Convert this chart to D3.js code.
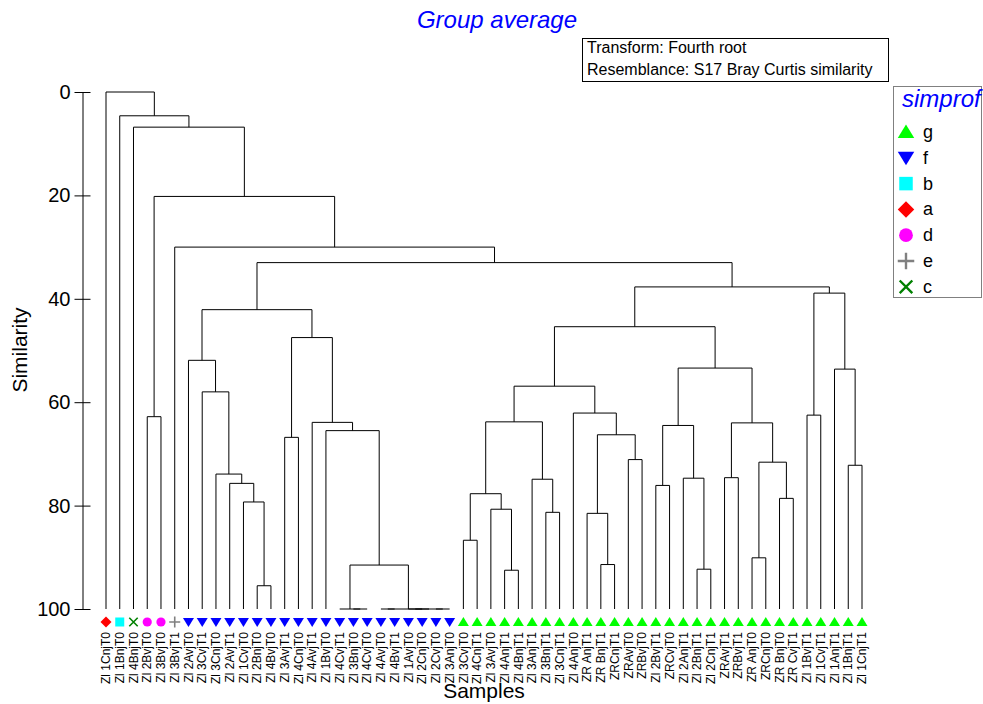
<!DOCTYPE html>
<html><head><meta charset="utf-8">
<script src="https://cdn.jsdelivr.net/npm/d3@7"></script>
<style>body{margin:0;background:#fff}svg{display:block;font-family:"Liberation Sans",Arial,sans-serif}</style>
</head><body><svg id="c" width="983" height="704"></svg>
<script>
// ---- data ----
const sampleLabels = [
 "Zl 1CnjT0","Zl 1BnjT0","Zl 4BnjT0","Zl 2BvjT0","Zl 3BvjT0","Zl 3BvjT1",
 "Zl 2AvjT0","Zl 3CvjT1","Zl 3CnjT0","Zl 2AvjT1","Zl 1CvjT0","Zl 2BnjT0","Zl 4BvjT0","Zl 3AvjT1",
 "Zl 4CnjT0","Zl 4AvjT1","Zl 1BvjT0","Zl 4CvjT1","Zl 3BnjT0","Zl 4CvjT0","Zl 4AvjT0","Zl 4BvjT1",
 "Zl 1AvjT0","Zl 2CnjT0","Zl 2CvjT0","Zl 3AnjT0",
 "Zl 3CvjT0","Zl 4CnjT1","Zl 3AvjT0","Zl 4AnjT1","Zl 4BnjT1","Zl 3AnjT1","Zl 3BnjT1","Zl 3CnjT1",
 "Zl 4AnjT0","ZR AnjT1","ZR BnjT1","ZRCnjT1","ZRAvjT0","ZRBvjT0","Zl 2BvjT1","ZRCvjT0",
 "Zl 2AnjT1","Zl 2BnjT1","Zl 2CnjT1","ZRAvjT1","ZRBvjT1","ZR AnjT0","ZRCnjT0","ZR BnjT0",
 "ZR CvjT1","Zl 1BvjT1","Zl 1CvjT1","Zl 1AnjT1","Zl 1BnjT1","Zl 1CnjT1"
];
const sampleGroups = [
 "a","b","c","d","d","e",
 "f","f","f","f","f","f","f","f","f","f","f","f","f","f","f","f","f","f","f","f",
 "g","g","g","g","g","g","g","g","g","g","g","g","g","g","g","g","g","g","g","g",
 "g","g","g","g","g","g","g","g","g","g"
];
// linkage: [left, right, similarity]; numbers = sample index, "cN" = earlier merge N
const merges = [
 [18,19,100],[17,"c0",100],[20,21,100],[22,23,100],[24,25,100],["c3","c4",100],["c2","c5",100],
 ["c1","c6",91.5],[16,"c7",65.5],[15,"c8",63.9],[13,14,66.8],["c10","c9",47.5],
 [11,12,95.5],[10,"c12",79.3],[9,"c13",75.7],[8,"c14",73.9],[7,"c15",58.0],[6,"c16",51.9],
 ["c17","c11",42.1],
 [26,27,86.7],[29,30,92.5],[28,"c20",80.7],["c19","c21",77.7],[32,33,81.3],[31,"c23",74.9],
 ["c22","c24",63.8],[36,37,91.4],[35,"c26",81.5],[38,39,71.1],["c27","c28",66.3],[34,"c29",62.1],
 ["c25","c30",56.9],[40,41,76.1],[43,44,92.3],[42,"c33",74.7],["c32","c34",64.5],[45,46,74.6],
 [47,48,90.1],[49,50,78.6],["c37","c38",71.6],["c36","c39",64.0],["c35","c40",53.4],
 ["c31","c41",45.4],[51,52,62.5],[54,55,72.2],[53,"c44",53.6],["c43","c45",38.9],
 ["c42","c46",37.7],["c18","c47",33.0],[5,"c48",30.0],[3,4,62.8],["c50","c49",20.2],
 [2,"c51",6.8],[1,"c52",4.6],[0,"c53",0]
];
const legendGroups = ["g","f","b","a","d","e","c"];
const groupColors = {g:"#00ff00",f:"#0000ff",b:"#00ffff",a:"#ff0000",d:"#ff00ff",e:"#808080",c:"#008000"};
const groupShapes = {g:"triUp",f:"triDown",b:"square",a:"diamond",d:"circle",e:"plus",c:"cross"};
const yTicks = [0,20,40,60,80,100];

// ---- build tree ----
const clusters = [];
function ref(r){ return typeof r === "number" ? {name:sampleLabels[r], idx:r, group:sampleGroups[r], sim:100} : clusters[+r.slice(1)]; }
merges.forEach(m => clusters.push({children:[ref(m[0]), ref(m[1])], sim:m[2]}));
const root = d3.hierarchy(clusters[clusters.length-1]);

const svg = d3.select("#c");
const FONT = '"Liberation Sans",Arial,sans-serif';
const leaves = root.leaves();
const x = d3.scalePoint().domain(leaves.map(d => d.data.idx)).range([106, 862]);
const y = d3.scaleLinear().domain([0,100]).range([92, 609]);

root.eachAfter(d => {
  if (!d.children) d.x = x(d.data.idx);
  else d.x = d3.mean(d.children, c => c.x);
});

// ---- dendrogram ----
const gL = svg.append("g").attr("fill","none").attr("stroke","#000").attr("stroke-width",1);
root.each(d => {
  if (!d.children) return;
  const yy = y(d.data.sim);
  const xs = d.children.map(c => c.x);
  gL.append("line").attr("x1", d3.min(xs)).attr("x2", d3.max(xs)).attr("y1", yy).attr("y2", yy);
  d.children.forEach(c => {
    gL.append("line").attr("x1", c.x).attr("x2", c.x).attr("y1", y(c.data.sim)).attr("y2", yy);
  });
});

// ---- symbols ----
function drawSymbol(g, shape, color, s) {
  switch (shape) {
    case "triUp": g.append("path").attr("d",`M0,${-5*s}L${5.5*s},${4*s}L${-5.5*s},${4*s}Z`).attr("fill",color); break;
    case "triDown": g.append("path").attr("d",`M0,${5*s}L${5.5*s},${-4*s}L${-5.5*s},${-4*s}Z`).attr("fill",color); break;
    case "square": g.append("rect").attr("x",-4.5*s).attr("y",-4.5*s).attr("width",9*s).attr("height",9*s).attr("fill",color); break;
    case "diamond": g.append("path").attr("d",`M0,${-5.5*s}L${5.5*s},0L0,${5.5*s}L${-5.5*s},0Z`).attr("fill",color); break;
    case "circle": g.append("circle").attr("r",4.6*s).attr("fill",color); break;
    case "plus": g.append("path").attr("d",`M${-5.5*s},0H${5.5*s}M0,${-5.5*s}V${5.5*s}`).attr("stroke",color).attr("stroke-width",1.6*s).attr("fill","none"); break;
    case "cross": g.append("path").attr("d",`M${-4.2*s},${-4.2*s}L${4.2*s},${4.2*s}M${4.2*s},${-4.2*s}L${-4.2*s},${4.2*s}`).attr("stroke",color).attr("stroke-width",1.6*s).attr("fill","none"); break;
  }
}
leaves.forEach(d => {
  const g = svg.append("g").attr("transform",`translate(${d.x},622)`);
  drawSymbol(g, groupShapes[d.data.group], groupColors[d.data.group], 1);
});

// ---- leaf labels ----
svg.append("g").selectAll("text").data(leaves).join("text")
  .attr("transform", d => `translate(${d.x},632) rotate(-90)`)
  .attr("text-anchor","end").attr("dy","0.35em")
  .attr("font-size",12).attr("font-family",FONT).attr("fill","#000")
  .text(d => d.data.name);

// ---- y axis ----
const yAxis = d3.axisLeft(y).tickValues(yTicks).tickSizeInner(8).tickSizeOuter(0).tickPadding(4);
const ga = svg.append("g").attr("transform","translate(82.5,0)").call(yAxis);
ga.selectAll(".tick line").attr("x1",8).attr("x2",-8).attr("stroke","#000");
ga.select(".domain").attr("stroke","#000");
ga.selectAll(".tick text").attr("x",-12).attr("font-size",20).attr("font-family",FONT).attr("fill","#000");

svg.append("text").attr("transform","translate(27,350) rotate(-90)").attr("text-anchor","middle")
  .attr("font-size",21).attr("font-family",FONT).text("Similarity");
svg.append("text").attr("x",484).attr("y",698).attr("text-anchor","middle")
  .attr("font-size",21).attr("font-family",FONT).text("Samples");

// ---- title ----
svg.append("text").attr("x",497).attr("y",28).attr("text-anchor","middle")
  .attr("font-size",24).attr("font-style","italic").attr("font-family",FONT).attr("fill","#0000ff")
  .text("Group average");

// ---- info box ----
svg.append("rect").attr("x",582.5).attr("y",38.5).attr("width",306).attr("height",43)
  .attr("fill","none").attr("stroke","#000");
svg.append("text").attr("x",587).attr("y",53).attr("font-size",16).attr("font-family",FONT).text("Transform: Fourth root");
svg.append("text").attr("x",587).attr("y",75).attr("font-size",16).attr("font-family",FONT).text("Resemblance: S17 Bray Curtis similarity");

// ---- legend ----
svg.append("rect").attr("x",893.5).attr("y",86.5).attr("width",88).attr("height",211)
  .attr("fill","none").attr("stroke","#808080");
svg.append("text").attr("x",902).attr("y",107).attr("font-size",24).attr("font-style","italic")
  .attr("font-family",FONT).attr("fill","#0000ff").text("simprof");
legendGroups.forEach((k,i) => {
  const cy = 132 + i*25.8;
  const g = svg.append("g").attr("transform",`translate(906,${cy})`);
  drawSymbol(g, groupShapes[k], groupColors[k], 1.5);
  svg.append("text").attr("x",923).attr("y",cy+6).attr("font-size",18).attr("font-family",FONT).text(k);
});
</script></body></html>
